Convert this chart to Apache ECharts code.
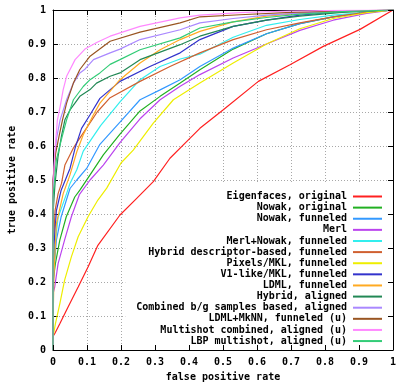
<!DOCTYPE html>
<html><head><meta charset="utf-8">
<script src="https://cdn.jsdelivr.net/npm/echarts@6/dist/echarts.min.js"></script>
<style>html,body{margin:0;padding:0;background:#fff}#c{width:399px;height:383px}</style>
</head><body><div id="c"></div>
<script>
const seriesNames = [
  "Eigenfaces, original","Nowak, original","Nowak, funneled","Merl",
  "Merl+Nowak, funneled","Hybrid descriptor-based, funneled","Pixels/MKL, funneled",
  "V1-like/MKL, funneled","LDML, funneled","Hybrid, aligned",
  "Combined b/g samples based, aligned","LDML+MkNN, funneled (u)",
  "Multishot combined, aligned (u)","LBP multishot, aligned (u)"
];
const seriesColors = ["#ff2020","#22b022","#3399ff","#bb44ee","#33eeee","#d06030","#eeee00",
  "#3333cc","#ffaa22","#228855","#aa88ff","#995522","#ff88ff","#33cc77"];
const xTicks = [0,0.1,0.2,0.3,0.4,0.5,0.6,0.7,0.8,0.9,1];
const yTicks = [0,0.1,0.2,0.3,0.4,0.5,0.6,0.7,0.8,0.9,1];

const eigenfacesOriginal = [[0,0],[0,0.04],[0.005,0.048],[0.02,0.077],[0.044,0.126],[0.074,0.185],[0.103,0.244],[0.132,0.308],[0.197,0.397],[0.241,0.441],[0.295,0.495],[0.344,0.564],[0.39,0.61],[0.432,0.652],[0.5,0.706],[0.604,0.79],[0.697,0.839],[0.795,0.893],[0.903,0.943],[1,1]];
const nowakOriginal = [[0,0],[0,0.2],[0.007,0.254],[0.02,0.323],[0.039,0.392],[0.064,0.45],[0.079,0.47],[0.109,0.515],[0.148,0.574],[0.197,0.635],[0.256,0.703],[0.315,0.746],[0.374,0.785],[0.432,0.824],[0.53,0.885],[0.628,0.93],[0.726,0.96],[0.824,0.98],[0.92,0.993],[1,1]];
const nowakFunneled = [[0,0],[0,0.2],[0.01,0.323],[0.024,0.392],[0.05,0.475],[0.07,0.5],[0.099,0.534],[0.138,0.605],[0.197,0.67],[0.256,0.736],[0.315,0.765],[0.374,0.795],[0.432,0.834],[0.53,0.888],[0.628,0.93],[0.726,0.96],[0.824,0.98],[0.92,0.993],[1,1]];
const merl = [[0,0],[0,0.165],[0.005,0.185],[0.015,0.254],[0.034,0.323],[0.054,0.392],[0.078,0.458],[0.109,0.5],[0.148,0.544],[0.197,0.61],[0.256,0.68],[0.315,0.736],[0.374,0.776],[0.432,0.81],[0.53,0.859],[0.628,0.9],[0.726,0.94],[0.824,0.97],[0.922,0.99],[1,1]];
const merlNowakFunneled = [[0,0],[0,0.2],[0.005,0.3],[0.015,0.39],[0.04,0.46],[0.05,0.49],[0.07,0.53],[0.089,0.585],[0.14,0.66],[0.197,0.73],[0.256,0.795],[0.315,0.834],[0.374,0.856],[0.432,0.87],[0.53,0.92],[0.628,0.955],[0.726,0.972],[0.824,0.985],[1,1]];
const hybridDescFunneled = [[0,0],[0,0.27],[0.006,0.41],[0.015,0.46],[0.025,0.49],[0.035,0.544],[0.06,0.594],[0.07,0.61],[0.1,0.655],[0.13,0.7],[0.168,0.742],[0.256,0.79],[0.344,0.834],[0.432,0.874],[0.53,0.913],[0.628,0.942],[0.726,0.962],[0.824,0.98],[0.92,0.993],[1,1]];
const pixelsMklFunneled = [[0,0],[0,0.038],[0.007,0.077],[0.02,0.136],[0.034,0.205],[0.054,0.274],[0.074,0.333],[0.103,0.392],[0.132,0.441],[0.158,0.476],[0.2,0.55],[0.236,0.588],[0.295,0.667],[0.354,0.736],[0.432,0.785],[0.53,0.844],[0.628,0.9],[0.726,0.945],[0.824,0.975],[0.922,0.992],[1,1]];
const v1MklFunneled = [[0,0],[0,0.1],[0.003,0.31],[0.01,0.41],[0.024,0.47],[0.05,0.534],[0.065,0.594],[0.084,0.652],[0.109,0.692],[0.138,0.74],[0.197,0.79],[0.285,0.834],[0.374,0.874],[0.432,0.913],[0.53,0.952],[0.628,0.97],[0.726,0.985],[0.85,0.995],[1,1]];
const ldmlFunneled = [[0,0],[0,0.07],[0.003,0.225],[0.01,0.372],[0.03,0.46],[0.05,0.515],[0.07,0.583],[0.089,0.633],[0.119,0.692],[0.138,0.726],[0.197,0.795],[0.256,0.844],[0.315,0.883],[0.374,0.913],[0.432,0.937],[0.53,0.965],[0.628,0.982],[0.75,0.992],[1,1]];
const hybridAligned = [[0,0],[0,0.4],[0.006,0.49],[0.015,0.57],[0.025,0.63],[0.035,0.677],[0.05,0.706],[0.079,0.746],[0.109,0.766],[0.128,0.785],[0.168,0.805],[0.197,0.815],[0.256,0.854],[0.374,0.898],[0.432,0.923],[0.53,0.952],[0.628,0.97],[0.726,0.982],[0.85,0.993],[1,1]];
const combinedBgAligned = [[0,0],[0,0.5],[0.01,0.62],[0.021,0.677],[0.04,0.736],[0.06,0.785],[0.079,0.815],[0.094,0.826],[0.119,0.854],[0.168,0.874],[0.197,0.885],[0.256,0.913],[0.374,0.942],[0.432,0.962],[0.53,0.975],[0.628,0.985],[0.8,0.995],[1,1]];
const ldmlMknnFunneled = [[0,0],[0,0.5],[0.008,0.58],[0.018,0.63],[0.028,0.677],[0.04,0.726],[0.06,0.785],[0.079,0.825],[0.109,0.864],[0.168,0.908],[0.256,0.935],[0.374,0.962],[0.432,0.98],[0.55,0.986],[0.7,0.993],[0.85,0.997],[1,1]];
const multishotCombined = [[0,0],[0,0.45],[0.005,0.58],[0.013,0.677],[0.021,0.716],[0.03,0.766],[0.04,0.805],[0.065,0.854],[0.094,0.885],[0.13,0.905],[0.168,0.923],[0.256,0.952],[0.374,0.977],[0.432,0.985],[0.55,0.992],[0.7,0.997],[0.85,0.999],[1,1]];
const lbpMultishot = [[0,0],[0,0.45],[0.01,0.56],[0.025,0.62],[0.04,0.677],[0.06,0.736],[0.089,0.775],[0.109,0.795],[0.138,0.815],[0.168,0.84],[0.197,0.854],[0.256,0.883],[0.374,0.918],[0.432,0.947],[0.53,0.965],[0.628,0.978],[0.726,0.988],[0.85,0.995],[1,1]];

const allData = [eigenfacesOriginal,nowakOriginal,nowakFunneled,merl,merlNowakFunneled,
  hybridDescFunneled,pixelsMklFunneled,v1MklFunneled,ldmlFunneled,hybridAligned,
  combinedBgAligned,ldmlMknnFunneled,multishotCombined,lbpMultishot];

const FONT = '"DejaVu Sans Mono", monospace';
const lbl = {fontFamily: FONT, fontWeight: 'bold', fontSize: 10, color: '#000'};
const chart = echarts.init(document.getElementById('c'), null, {renderer: 'canvas'});
chart.setOption({
  animation: false,
  backgroundColor: '#fff',
  grid: {left: 53, right: 6, top: 10, bottom: 33, containLabel: false, outerBoundsMode: 'none'},
  xAxis: [
    {type: 'value', min: 0, max: 1, interval: 0.1, position: 'bottom', z: 10,
     axisLine: {show: true, lineStyle: {color: '#000', width: 1}},
     axisTick: {show: true, inside: true, length: 5, lineStyle: {color: '#000'}},
     axisLabel: Object.assign({margin: 7, formatter: v => String(+v.toFixed(1))}, lbl),
     splitLine: {show: false},
     name: 'false positive rate', nameLocation: 'middle', nameGap: 22,
     nameTextStyle: lbl},
    {type: 'value', min: 0, max: 1, interval: 0.1, position: 'top', z: 0,
     axisLine: {show: true, onZero: false, lineStyle: {color: '#000', width: 1}},
     axisTick: {show: true, inside: true, length: 5, lineStyle: {color: '#000'}},
     axisLabel: {show: false},
     splitLine: {show: true, lineStyle: {color: '#a8a8a8', width: 1, type: [1, 2]}}}
  ],
  yAxis: [
    {type: 'value', min: 0, max: 1, interval: 0.1, position: 'left', z: 0,
     axisLine: {show: true, onZero: false, lineStyle: {color: '#000', width: 1}},
     axisTick: {show: true, inside: true, length: 5, lineStyle: {color: '#000'}},
     axisLabel: Object.assign({margin: 7, formatter: v => String(+v.toFixed(1))}, lbl),
     splitLine: {show: true, lineStyle: {color: '#a8a8a8', width: 1, type: [1, 2]}},
     name: 'true positive rate', nameLocation: 'middle', nameGap: 36, nameRotate: 90,
     nameTextStyle: lbl},
    {type: 'value', min: 0, max: 1, interval: 0.1, position: 'right', z: 10,
     axisLine: {show: true, onZero: false, lineStyle: {color: '#000', width: 1}},
     axisTick: {show: true, inside: true, length: 5, lineStyle: {color: '#000'}},
     axisLabel: {show: false}, splitLine: {show: false}}
  ],
  legend: {
    orient: 'vertical', right: 6, top: 183, z: 1,
    align: 'right', icon: 'rect', itemWidth: 29, itemHeight: 2, itemGap: 0.12,
    padding: [8, 11, 3, 11], backgroundColor: '#fff',
    textStyle: Object.assign({lineHeight: 11, padding: [0, 1, 0, 0]}, lbl),
    data: seriesNames
  },
  series: allData.map((d, i) => ({
    name: seriesNames[i], type: 'line', data: d, xAxisIndex: 0, yAxisIndex: 0,
    showSymbol: false, symbol: 'none', color: seriesColors[i],
    lineStyle: {width: 1.2, color: seriesColors[i]}, itemStyle: {color: seriesColors[i]}
  }))
});
</script></body></html>
